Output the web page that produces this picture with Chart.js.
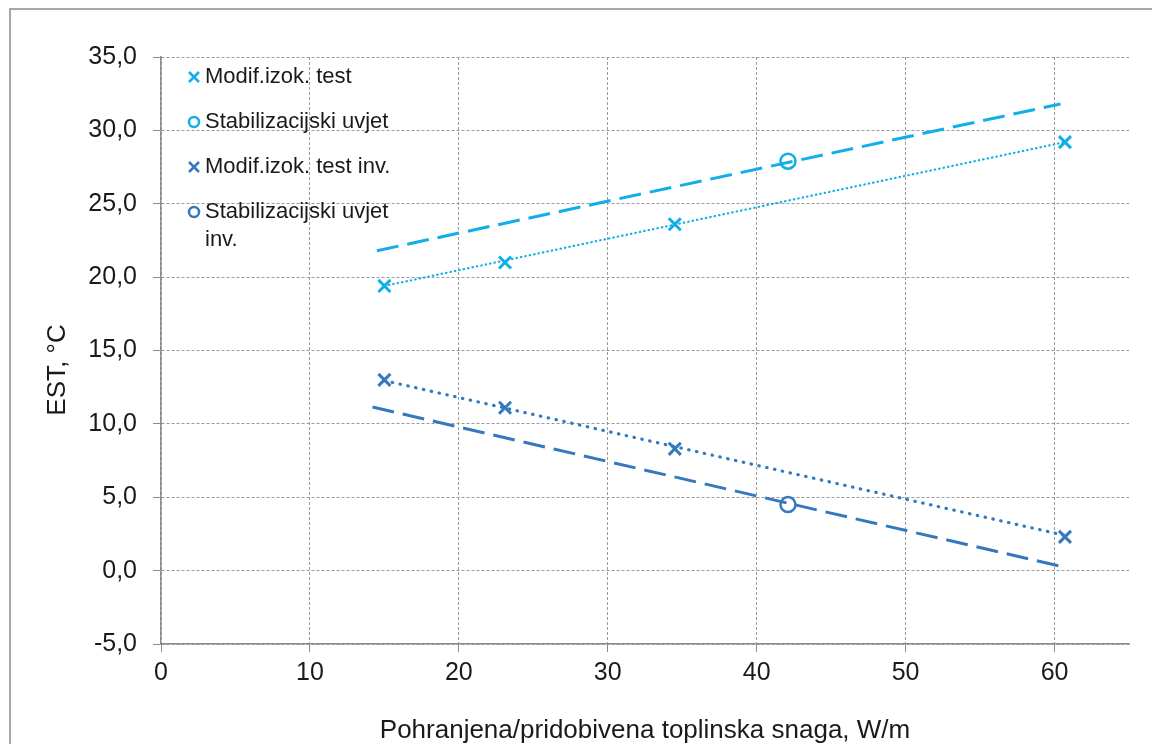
<!DOCTYPE html>
<html>
<head>
<meta charset="utf-8">
<title>EST</title>
<script src="https://cdn.jsdelivr.net/npm/chart.js@4/dist/chart.umd.min.js"></script>
<style>
  html, body { margin: 0; padding: 0; background: #fff; }
  #wrap { width: 1152px; height: 744px; position: relative; }
</style>
</head>
<body>
<div id="wrap"><canvas id="estChart"></canvas></div>
<script>
// measured points
const testX = [15, 23.1, 34.5, 60.7];
const testEst = [19.4, 21.0, 23.6, 29.2];
const testInvEst = [13.0, 11.1, 8.3, 2.3];
const stabX = [42.1];
const stabEst = [27.9];
const stabInvEst = [4.5];

// stabilisation lines (dashed) and trend lines (dotted), end points only
const stabLineX = [14.5, 60.4];
const stabLineEst = [21.8, 31.8];
const stabInvLineX = [14.2, 60.6];
const stabInvLineEst = [11.15, 0.25];
const trendX = [15, 60.7];
const trendEst = [19.4, 29.2];
const trendInvEst = [12.95, 2.4];

const xTicks = [0, 10, 20, 30, 40, 50, 60];
const legendLabels = ['Modif.izok. test', 'Stabilizacijski uvjet', 'Modif.izok. test inv.', 'Stabilizacijski uvjet inv.'];
const yTitle = 'EST, °C';

const LIGHT = '#12aee9';
const DARK = '#3479bf';
const FONT = '"Liberation Sans", Arial, sans-serif';

function pts(xs, ys) {
  return xs.map((x, i) => ({ x: x, y: ys[i] }));
}

// white background + outer frame
const framePlugin = {
  id: 'frame',
  beforeDraw(chart) {
    const ctx = chart.ctx;
    ctx.save();
    ctx.fillStyle = '#fff';
    ctx.fillRect(0, 0, chart.width, chart.height);
    ctx.strokeStyle = '#8c8c8c';
    ctx.lineWidth = 1.5;
    ctx.strokeRect(10, 9, 2000, 2000);
    ctx.restore();
  },
  // y title sits a bit below the middle of the axis
  afterDraw(chart) {
    const ctx = chart.ctx;
    ctx.save();
    ctx.translate(58, 370);
    ctx.rotate(-Math.PI / 2);
    ctx.font = '26px ' + FONT;
    ctx.fillStyle = '#1a1a1a';
    ctx.textAlign = 'center';
    ctx.textBaseline = 'middle';
    ctx.fillText(yTitle, 0, 0);
    ctx.restore();
  }
};

// legend drawn inside the plot area, top left
const insideLegend = {
  id: 'insideLegend',
  afterDatasetsDraw(chart) {
    const ctx = chart.ctx;
    const area = chart.chartArea;
    const mx = area.left + 33;
    const tx = area.left + 44;
    let y = area.top + 20;
    const styles = [
      { color: LIGHT, shape: 'x' },
      { color: LIGHT, shape: 'o' },
      { color: DARK, shape: 'x' },
      { color: DARK, shape: 'o' }
    ];
    ctx.save();
    ctx.font = '22px ' + FONT;
    ctx.textBaseline = 'middle';
    ctx.textAlign = 'left';
    legendLabels.forEach((label, i) => {
      const s = styles[i];
      ctx.strokeStyle = s.color;
      ctx.lineWidth = 2.5;
      ctx.beginPath();
      if (s.shape === 'x') {
        ctx.moveTo(mx - 5, y - 5); ctx.lineTo(mx + 5, y + 5);
        ctx.moveTo(mx + 5, y - 5); ctx.lineTo(mx - 5, y + 5);
      } else {
        ctx.arc(mx, y, 5, 0, Math.PI * 2);
      }
      ctx.stroke();
      ctx.fillStyle = '#1a1a1a';
      if (i === 3) {
        ctx.fillText('Stabilizacijski uvjet', tx, y);
        ctx.fillText('inv.', tx, y + 28);
      } else {
        ctx.fillText(label, tx, y);
      }
      y += 45;
    });
    ctx.restore();
  }
};

new Chart(document.getElementById('estChart'), {
  type: 'scatter',
  data: {
    datasets: [
      {
        label: legendLabels[0], data: pts(testX, testEst),
        pointStyle: 'crossRot', pointRadius: 8.5, borderColor: LIGHT, borderWidth: 3, backgroundColor: LIGHT
      },
      {
        label: legendLabels[1], data: pts(stabX, stabEst),
        pointStyle: 'circle', pointRadius: 7.5, borderColor: LIGHT, borderWidth: 2.5, backgroundColor: 'rgba(0,0,0,0)'
      },
      {
        label: legendLabels[2], data: pts(testX, testInvEst),
        pointStyle: 'crossRot', pointRadius: 8.5, borderColor: DARK, borderWidth: 3, backgroundColor: DARK
      },
      {
        label: legendLabels[3], data: pts(stabX, stabInvEst),
        pointStyle: 'circle', pointRadius: 7.5, borderColor: DARK, borderWidth: 2.5, backgroundColor: 'rgba(0,0,0,0)'
      },
      {
        label: 'stab', data: pts(stabLineX, stabLineEst), showLine: true, pointRadius: 0,
        borderColor: LIGHT, borderWidth: 3, borderDash: [22, 9]
      },
      {
        label: 'stab inv', data: pts(stabInvLineX, stabInvLineEst), showLine: true, pointRadius: 0,
        borderColor: DARK, borderWidth: 3, borderDash: [22, 9]
      },
      {
        label: 'trend', data: pts(trendX, trendEst), showLine: true, pointRadius: 0,
        borderColor: LIGHT, borderWidth: 2.2, borderDash: [0.5, 4], borderCapStyle: 'round'
      },
      {
        label: 'trend inv', data: pts(trendX, trendInvEst), showLine: true, pointRadius: 0,
        borderColor: DARK, borderWidth: 3.2, borderDash: [0.5, 7.5], borderCapStyle: 'round'
      }
    ]
  },
  options: {
    responsive: true,
    maintainAspectRatio: false,
    animation: false,
    layout: { padding: { left: 10, top: 57, right: 23, bottom: 0 } },
    plugins: {
      legend: { display: false },
      tooltip: { enabled: false }
    },
    scales: {
      x: {
        type: 'linear',
        min: 0,
        max: 65,
        afterBuildTicks(scale) {
          scale.ticks = xTicks.map(v => ({ value: v }));
        },
        afterFit(scale) { scale.height = 100; },
        grid: {
          color: '#9a9a9a',
          tickLength: 8,
          tickColor: '#8c8c8c',
          tickBorderDash: []
        },
        border: { display: true, color: '#8c8c8c', width: 1.5, dash: [3, 2] },
        ticks: {
          color: '#1a1a1a',
          font: { family: FONT, size: 25 },
          padding: 6,
          maxRotation: 0,
          callback: v => String(v)
        },
        title: {
          display: true,
          text: 'Pohranjena/pridobivena toplinska snaga, W/m',
          color: '#1a1a1a',
          font: { family: FONT, size: 26, lineHeight: 1 },
          padding: { top: 0, bottom: 0 }
        }
      },
      y: {
        min: -5,
        max: 35,
        afterFit(scale) { scale.width = 151; },
        grid: {
          color: '#9a9a9a',
          tickLength: 8,
          tickColor: '#8c8c8c',
          tickBorderDash: []
        },
        border: { display: true, color: '#8c8c8c', width: 1.5, dash: [3, 2] },
        ticks: {
          stepSize: 5,
          color: '#1a1a1a',
          font: { family: FONT, size: 25 },
          padding: 16,
          callback: v => v.toFixed(1).replace('.', ',')
        }
      }
    }
  },
  plugins: [framePlugin, insideLegend]
});
</script>
</body>
</html>
